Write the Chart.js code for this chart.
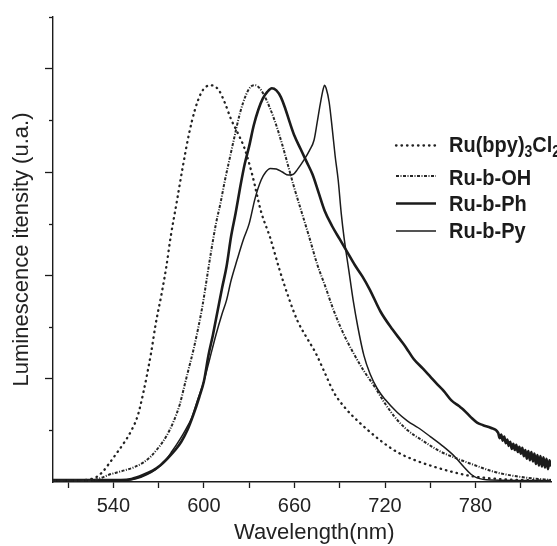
<!DOCTYPE html>
<html><head><meta charset="utf-8">
<script src="https://cdn.jsdelivr.net/npm/chart.js@4.4.1/dist/chart.umd.min.js"></script>
<style>html,body{margin:0;padding:0;background:#fff;}</style>
</head><body>
<canvas id="c" width="557" height="546"></canvas>
<script>
const seriesLabels = ['Ru(bpy)₃Cl₂', 'Ru-b-OH', 'Ru-b-Ph', 'Ru-b-Py'];

const bpyWavelength = [500,515,524,529,533,537,542,548,552,556,560,565,568,572,575,578,582,586,590,594,598,601,604,607,610,614,618,622,627,632,638,644,650,656,662,668,674,680,686,694,702,710,718,728,740,752,764,776,790,810,830];
const bpyIntensity  = [0.03,0.03,0.05,0.1,0.2,0.35,0.55,0.8,1.0,1.27,1.75,2.5,3.05,3.65,4.15,4.75,5.42,6.1,6.72,7.2,7.52,7.64,7.68,7.66,7.58,7.33,7.02,6.78,6.45,5.95,5.22,4.72,4.12,3.58,3.12,2.8,2.5,2.12,1.74,1.42,1.18,0.97,0.78,0.58,0.42,0.3,0.2,0.12,0.07,0.04,0.03];

const ohWavelength = [500,525,532,537,543,548,554,560,565,570,575,580,584,587,590,593,596,599,602,605,608,611,614,617,620,624,628,631,634,637,640,644,648,652,656,660,665,670,675,680,686,692,699,706,713,720,727,735,745,756,768,780,792,805,818,830];
const ohIntensity  = [0.03,0.03,0.08,0.14,0.19,0.23,0.29,0.38,0.5,0.67,0.88,1.18,1.5,1.85,2.2,2.55,2.95,3.4,3.95,4.5,5.0,5.4,5.85,6.25,6.65,7.15,7.5,7.65,7.68,7.62,7.48,7.22,6.9,6.52,6.1,5.68,5.2,4.72,4.22,3.82,3.32,2.9,2.5,2.15,1.85,1.52,1.24,1.0,0.8,0.6,0.45,0.32,0.2,0.12,0.07,0.04];

const phWavelength = [500,530,545,552,560,566,571,576,581,585,589,593,597,600,603,606,609,612,615,618,621,624,627,630,633,636,639,642,645,648,651,654,657,660,664,668,672,676,680,685,690,695,700,705,710,717,725,731,734,739,745,750,755,759,764,769,772,777,781,785,790,795,796,797,798,799,800,801,802,803,804,805,806,807,808,809,810,811,812,813,814,815,816,817,818,819,820,821,822,823,824,825,826,827,828,829,830];
const phIntensity  = [0.04,0.04,0.04,0.06,0.14,0.22,0.32,0.46,0.62,0.78,1.0,1.3,1.65,1.95,2.45,2.85,3.3,3.75,4.17,4.75,5.2,5.7,6.15,6.5,6.9,7.2,7.42,7.55,7.62,7.58,7.45,7.22,6.95,6.7,6.45,6.2,5.95,5.6,5.25,4.95,4.7,4.45,4.2,3.98,3.72,3.3,2.95,2.72,2.6,2.38,2.2,2.04,1.88,1.76,1.58,1.47,1.4,1.25,1.15,1.1,1.05,0.95,0.85,0.92,0.8,0.88,0.75,0.82,0.7,0.78,0.64,0.74,0.62,0.72,0.58,0.68,0.55,0.66,0.5,0.62,0.45,0.6,0.42,0.58,0.4,0.55,0.35,0.52,0.32,0.5,0.3,0.48,0.28,0.45,0.25,0.42,0.3];

const pyWavelength = [500,530,548,555,562,568,574,579,584,588,592,596,600,604,608,612,615,618,622,626,630,634,638,641,644,648,652,656,659,662,666,670,673,675,677,679,680,681,683,685,687,689,691,693,696,699,702,706,710,715,720,728,735,742,750,759,766,772,777,781,790,830];
const pyIntensity  = [0.03,0.03,0.03,0.06,0.14,0.24,0.4,0.6,0.82,1.02,1.25,1.6,1.95,2.4,2.85,3.25,3.52,3.9,4.3,4.68,5.0,5.5,5.85,6.0,6.07,6.06,6.0,5.94,5.95,6.05,6.22,6.42,6.62,6.95,7.3,7.6,7.68,7.62,7.35,6.85,6.3,5.84,5.2,4.7,4.1,3.5,3.0,2.45,2.1,1.8,1.6,1.35,1.18,1.05,0.88,0.68,0.5,0.3,0.15,0.08,0.04,0.03];

const xTickValues = [510,540,570,600,630,660,690,720,750,780,810];
const xLabelValues = [540,600,660,720,780];
const yTickValues = [0,1,2,3,4,5,6,7,8,9];
const yMajorTickValues = [2,4,6,8];

const toPoints = (xs, ys) => xs.map((x, i) => ({x: x, y: ys[i]}));

const INK = '#1b1b1b';

const minorTickPlugin = {
  id: 'minorTicks',
  afterDraw(chart) {
    const y = chart.scales.y;
    const ctx = chart.ctx;
    ctx.save();
    ctx.strokeStyle = INK;
    ctx.lineWidth = 1.3;
    yTickValues.filter(v => v > 0 && !yMajorTickValues.includes(v)).forEach(v => {
      const py = Math.round(y.getPixelForValue(v)) + 0.5;
      ctx.beginPath();
      ctx.moveTo(y.right - 4, py);
      ctx.lineTo(y.right, py);
      ctx.stroke();
    });
    ctx.restore();
  }
};

const subMap = {'₀':'0','₁':'1','₂':'2','₃':'3','₄':'4','₅':'5','₆':'6','₇':'7','₈':'8','₉':'9'};
function drawRich(ctx, text, x, y) {
  ctx.save();
  ctx.translate(x, y);
  ctx.scale(1, 1.12);
  let cx = 0;
  for (const ch of text) {
    if (subMap[ch]) {
      ctx.font = 'bold 14px "Liberation Sans", Arial, sans-serif';
      ctx.fillText(subMap[ch], cx, 4.5);
      cx += ctx.measureText(subMap[ch]).width;
    } else {
      ctx.font = 'bold 20px "Liberation Sans", Arial, sans-serif';
      ctx.fillText(ch, cx, 0);
      cx += ctx.measureText(ch).width;
    }
  }
  ctx.restore();
}

const legendPlugin = {
  id: 'inlineLegend',
  afterDraw(chart) {
    const ctx = chart.ctx;
    const rows = [{lineY: 145.5, baseY: 151.5}, {lineY: 176, baseY: 185}, {lineY: 203.5, baseY: 211}, {lineY: 231, baseY: 237.5}];
    chart.data.datasets.forEach((ds, i) => {
      const r = rows[i];
      ctx.save();
      ctx.strokeStyle = ds.borderColor;
      ctx.lineWidth = ds.borderWidth;
      ctx.lineCap = ds.borderCapStyle || 'butt';
      ctx.setLineDash(ds.borderDash || []);
      ctx.beginPath();
      ctx.moveTo(396, r.lineY);
      ctx.lineTo(436, r.lineY);
      ctx.stroke();
      ctx.setLineDash([]);
      ctx.fillStyle = INK;
      ctx.textBaseline = 'alphabetic';
      drawRich(ctx, ds.label, 449, r.baseY);
      ctx.restore();
    });
  }
};

new Chart(document.getElementById('c'), {
  type: 'line',
  data: {
    datasets: [
      {label: seriesLabels[0], data: toPoints(bpyWavelength, bpyIntensity), borderColor: '#222222', borderWidth: 2.3, borderDash: [0.5, 5], borderCapStyle: 'round'},
      {label: seriesLabels[1], data: toPoints(ohWavelength, ohIntensity), borderColor: '#262626', borderWidth: 2, borderDash: [3, 1.5, 1, 1.5]},
      {label: seriesLabels[2], data: toPoints(phWavelength, phIntensity), borderColor: INK, borderWidth: 2.6},
      {label: seriesLabels[3], data: toPoints(pyWavelength, pyIntensity), borderColor: INK, borderWidth: 1.5}
    ]
  },
  options: {
    responsive: false,
    animation: false,
    devicePixelRatio: 1,
    layout: {padding: {left: 0, top: 17, right: 6, bottom: 0}},
    elements: {point: {radius: 0}, line: {cubicInterpolationMode: 'monotone'}},
    plugins: {legend: {display: false}, tooltip: {enabled: false}},
    scales: {
      x: {
        type: 'linear', min: 500, max: 830,
        afterBuildTicks: s => { s.ticks = xTickValues.map(v => ({value: v})); },
        afterFit: s => { s.height = 64; },
        grid: {drawOnChartArea: false, tickLength: 6, tickColor: INK, tickWidth: 1.3},
        border: {color: INK, width: 1.4},
        ticks: {
          autoSkip: false, maxRotation: 0, padding: 6, color: '#222',
          font: {family: '"Liberation Sans", Arial, sans-serif', size: 20},
          callback: v => xLabelValues.includes(v) ? String(v) : ''
        },
        title: {display: true, text: '    Wavelength(nm)', color: '#222', padding: {top: 0, bottom: 0},
          font: {family: '"Liberation Sans", Arial, sans-serif', size: 22}}
      },
      y: {
        type: 'linear', min: 0, max: 9,
        afterBuildTicks: s => { s.ticks = yTickValues.map(v => ({value: v})); },
        afterFit: s => { s.width = 53; },
        grid: {drawOnChartArea: false, tickLength: 8, tickWidth: 1.3,
          tickColor: c => (c.tick && yMajorTickValues.includes(c.tick.value)) ? INK : 'rgba(0,0,0,0)'},
        border: {color: INK, width: 1.4},
        ticks: {display: false},
        title: {display: true, text: 'Luminescence itensity (u.a.)', color: '#222', padding: {top: 9, bottom: 0},
          font: {family: '"Liberation Sans", Arial, sans-serif', size: 22}}
      }
    }
  },
  plugins: [minorTickPlugin, legendPlugin]
});
</script>
</body></html>
